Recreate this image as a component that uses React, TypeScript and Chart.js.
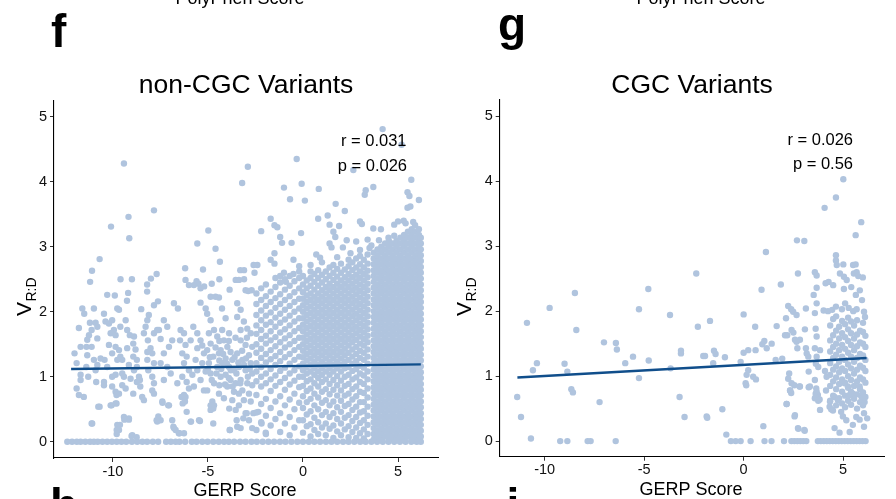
import { useEffect, useRef } from "react";
import { Chart, registerables } from "chart.js";

Chart.register(...registerables);

const FONT = '"Liberation Sans", Arial, Helvetica, sans-serif';
const POINT_COLOR = "#B0C4DE";
const LINE_COLOR = "#104E8B";

const xTickValues = [-10, -5, 0, 5];
const yTickValues = [0, 1, 2, 3, 4, 5];

// ---------------- non-CGC variants (panel f) ----------------
const nonCgcFitX = [-12.2, 6.2];
const nonCgcFitY = [1.12, 1.19];

const nonCgcZeroX = [
  -12.4, -12.15, -11.9, -11.7, -11.45, -11.2, -11.0, -10.8, -10.55, -10.3, -10.05, -9.8, -9.55, -9.3,
  -9.0, -8.72, -8.45, -8.2, -7.9, -7.62, -7.2, -6.95, -6.7, -6.5, -6.2, -5.85, -5.6, -5.3, -5.02,
  -4.72, -4.43, -4.15, -3.9, -3.62, -3.31, -3.02, -2.71, -2.43, -2.12, -1.82, -1.52, -1.21, -0.92,
  -0.61, -0.3, 0.0, 0.31, 0.6, 0.9, 1.21, 1.5, 1.8, 2.11, 2.4, 2.7, 3.01, 3.3, 3.6, 3.9, 4.2, 4.5,
  4.8, 5.1, 5.4, 5.7, 5.98, 6.2,
];

const nonCgcOutliers: [number, number][] = [
  [-9.42, 4.28], [-2.9, 4.23], [-3.2, 3.98], [-7.84, 3.56], [-9.18, 3.46], [-10.1, 3.31], [-9.14, 3.13],
  [-4.98, 3.25], [-5.56, 3.05], [-4.6, 2.97], [-4.37, 2.77], [-10.7, 2.81], [-11.1, 2.63], [-11.2, 2.46],
  [-9.6, 2.5], [-9.0, 2.5], [-9.2, 2.29], [-8.0, 2.51], [-7.7, 2.58], [-8.2, 2.42], [-8.2, 2.31],
  [-6.2, 2.67], [-5.26, 2.65], [-5.6, 2.47], [-5.5, 2.43], [-5.2, 2.39], [-4.8, 2.43], [-4.4, 2.5],
  [-3.3, 2.64], [-3.1, 2.64], [-2.7, 2.33], [-2.55, 2.6], [-3.1, 2.5], [-10.3, 2.26], [-9.9, 2.25],
  [4.19, 4.81], [5.19, 4.57], [2.65, 4.18], [-0.33, 4.35], [5.7, 4.03], [-1.0, 3.91], [-0.07, 3.97],
  [0.83, 3.89], [3.3, 3.87], [3.25, 3.8], [3.7, 3.92], [-0.68, 3.73], [0.1, 3.71], [1.72, 3.66],
  [2.2, 3.55], [5.5, 3.84], [5.6, 3.78], [6.1, 3.72], [5.5, 3.6], [5.65, 3.62], [0.8, 3.43], [1.3, 3.48],
  [1.4, 3.34], [1.9, 3.32], [-1.7, 3.43], [-1.5, 3.33], [-1.35, 3.3], [3.0, 3.39], [3.1, 3.35],
  [4.8, 3.34], [5.0, 3.39], [5.3, 3.4], [5.4, 3.36], [5.8, 3.38], [5.9, 3.33], [-2.2, 3.24], [-0.1, 3.21],
  [1.6, 3.23], [3.7, 3.28], [4.1, 3.27], [-1.2, 3.15], [-1.1, 3.06], [-0.6, 3.06], [1.4, 3.05],
  [1.7, 3.15], [2.3, 3.1], [2.8, 3.08], [3.4, 3.11], [4.0, 3.1], [4.5, 3.14], [4.8, 3.17], [-1.5, 2.9],
  [-0.5, 2.8], [0.7, 2.88], [0.9, 2.83], [1.5, 2.99], [2.1, 2.99], [3.5, 2.98], [3.6, 3.02],
  [-2.6, 2.72], [-2.4, 2.72], [-1.7, 2.8], [-1.5, 2.74], [-1.0, 2.6], [-0.5, 2.58], [-0.9, 2.46],
  [-1.2, 2.55], [-0.2, 2.7], [0.4, 2.72], [1.0, 2.76], [1.8, 2.84], [2.5, 2.9], [3.0, 2.95],
];

const nonCgcBand: [number, number][] = [
  [-12.02, 1.36], [-11.91, 1.21], [-11.79, 1.75], [-11.7, 1.46], [-11.39, 1.46], [-11.12, 1.46],
  [-11.35, 1.33], [-11.4, 1.15], [-11.91, 0.82], [-11.79, 0.72], [-11.53, 0.69], [-11.7, 1.03],
  [-11.7, 0.95], [-11.3, 1.0], [-11.0, 1.26], [-10.82, 1.18], [-11.61, 2.05], [-11.51, 1.97],
  [-11.0, 2.05], [-11.21, 1.83], [-11.12, 1.72], [-11.26, 1.64], [-11.35, 1.57], [-10.91, 1.83],
  [-10.82, 1.77], [-10.82, 1.59], [-11.12, 0.28], [-10.7, 0.54], [-10.91, 1.1], [-10.88, 0.92],
  [-10.47, 0.92], [-10.65, 1.28], [-10.44, 1.26],
  [-10.47, 1.97], [-10.39, 1.85], [-10.21, 1.82], [-10.04, 1.87], [-9.95, 1.72], [-10.12, 1.67],
  [-9.86, 1.64], [-9.86, 1.46], [-10.21, 1.49], [-10.04, 1.36], [-9.68, 1.41], [-9.61, 1.31],
  [-9.77, 1.26], [-9.51, 1.26], [-10.3, 1.15], [-10.04, 1.0], [-9.86, 1.03], [-9.51, 1.05],
  [-9.42, 1.0], [-10.47, 0.87], [-10.04, 0.85], [-9.86, 0.77], [-9.68, 0.74], [-9.51, 0.87],
  [-9.33, 0.82], [-9.81, 0.72], [-10.12, 0.56], [-9.86, 0.59], [-9.77, 0.26], [-9.68, 0.18],
  [-9.42, 0.38], [-9.16, 0.36], [-8.98, 0.1], [-9.77, 2.05], [-9.68, 2.03], [-9.26, 2.17],
  [-9.61, 1.77], [-9.33, 1.87], [-9.25, 1.72], [-9.11, 1.64], [-8.89, 1.62], [-8.93, 1.51],
  [-9.25, 1.44], [-8.81, 1.42], [-8.93, 1.31], [-8.74, 1.26], [-9.16, 1.18], [-8.74, 1.15],
  [-8.89, 1.1], [-8.63, 1.0], [-9.07, 0.97], [-8.74, 0.92], [-8.56, 0.85], [-8.93, 0.74],
  [-8.46, 0.69], [-8.37, 0.64], [-8.58, 0.95], [-8.51, 2.04], [-8.28, 1.77], [-8.19, 1.87],
  [-8.11, 1.95], [-8.37, 1.67], [-8.16, 1.56], [-8.02, 1.44], [-8.19, 1.38], [-7.93, 1.36],
  [-8.19, 1.26], [-7.84, 1.21], [-8.14, 1.1], [-7.93, 1.0], [-7.84, 0.9], [-7.93, 0.79],
  [-7.84, 0.74], [-7.84, 2.1], [-7.63, 2.16], [-7.84, 1.67], [-7.67, 1.72], [-7.49, 1.58],
  [-7.58, 1.72],
  [-7.32, 1.87], [-7.14, 1.77], [-6.88, 1.56], [-7.05, 1.46], [-7.32, 1.36], [-7.49, 1.21],
  [-7.14, 1.15], [-6.96, 1.05], [-7.32, 0.95], [-7.4, 0.62], [-7.05, 0.56], [-7.49, 0.33],
  [-7.67, 0.31], [-6.88, 0.33], [-6.79, 0.21], [-6.53, 0.13], [-6.26, 0.13], [-6.79, 2.13],
  [-6.58, 2.05], [-6.44, 1.72], [-6.26, 1.67], [-6.47, 1.56], [-6.18, 1.49], [-6.35, 1.36],
  [-6.12, 1.31], [-6.26, 1.21], [-6.0, 1.1], [-6.35, 1.0], [-6.12, 0.92], [-6.61, 0.9],
  [-6.0, 0.82], [-6.26, 0.72], [-6.18, 0.69], [-6.12, 0.46], [-5.91, 0.31], [-6.18, 2.49],
  [-6.0, 2.41], [-5.74, 2.41], [-5.39, 2.36], [-5.39, 2.14], [-5.12, 2.05], [-5.04, 1.97],
  [-5.77, 1.77], [-5.56, 1.67], [-5.91, 1.56], [-5.39, 1.56], [-5.56, 1.44], [-5.21, 1.36],
  [-5.65, 1.26], [-5.3, 1.21], [-5.56, 1.1], [-5.12, 1.08], [-5.82, 1.03], [-5.39, 0.95],
  [-5.74, 0.85], [-5.21, 0.79], [-5.47, 0.33], [-4.86, 2.23], [-4.6, 2.23], [-4.42, 2.22],
  [-4.86, 1.87], [-4.68, 1.72], [-4.95, 1.67], [-4.51, 1.62], [-4.86, 1.51], [-5.04, 1.41],
  [-4.72, 1.31], [-4.42, 1.36], [-4.95, 1.21], [-4.51, 1.15], [-4.86, 1.05], [-4.33, 1.0],
  [-4.68, 0.9], [-5.04, 0.79], [-4.42, 0.74], [-4.77, 0.62], [-4.68, 0.56], [-4.86, 0.49],
  [-4.72, 0.28], [-4.26, 2.05], [-4.07, 1.9], [-4.25, 1.72], [-3.89, 1.67], [-4.16, 1.56],
  [-3.98, 1.46], [-4.33, 1.41], [-3.81, 1.38], [-4.07, 1.28], [-3.72, 1.26], [-4.25, 1.21],
  [-3.89, 1.15], [-3.63, 1.1], [-4.07, 1.03], [-3.81, 0.95], [-3.54, 0.9], [-3.98, 0.85],
  [-3.63, 0.77], [-4.16, 0.67], [-3.72, 0.64], [-3.37, 0.74], [-3.54, 0.49], [-3.49, 0.33],
  [-3.86, 0.18], [-3.54, 2.49], [-3.86, 2.34], [-3.37, 2.49], [-3.02, 2.33], [-2.88, 2.32],
  [-3.46, 2.13], [-3.28, 2.03], [-3.46, 1.92], [-3.11, 1.85], [-3.28, 1.72], [-2.93, 1.74],
  [-2.75, 1.67], [-3.28, 1.56], [-3.02, 1.49], [-2.67, 1.46], [-3.46, 1.36], [-2.84, 1.33],
  [-3.19, 1.26], [-2.75, 1.21], [-3.37, 1.15], [-3.02, 1.1], [-2.67, 1.05], [-3.28, 0.95],
  [-2.93, 0.9], [-2.67, 0.87], [-3.19, 0.79], [-2.84, 0.74], [-3.11, 0.64], [-2.75, 0.62],
  [-3.37, 0.56], [-3.02, 0.44], [-2.84, 0.33], [-3.28, 0.21], [-2.67, 0.21],
  [-4.9, 1.3], [-4.6, 1.45], [-4.4, 1.25], [-4.2, 1.35], [-4.0, 1.2], [-3.8, 1.1], [-3.6, 1.3],
  [-3.4, 1.22], [-3.2, 1.4], [-3.0, 1.28], [-2.8, 1.12], [-3.5, 1.05], [-3.9, 0.98], [-4.3, 1.12],
  [-4.55, 1.05], [-4.1, 0.88], [-3.7, 0.85], [-3.3, 0.9], [-2.9, 1.0], [-5.3, 1.48], [-5.0, 1.12],
  [-4.8, 0.95], [-3.1, 1.18], [-3.55, 1.6], [-3.9, 1.55], [-4.4, 1.55], [-2.95, 1.6],
  [-10.77, 0.54], [-11.09, 0.28], [-10.07, 0.56], [-9.81, 0.59], [-9.63, 0.26], [-9.4, 0.34],
  [-9.8, 0.18], [-9.8, 0.12], [-9.02, 0.09], [-8.75, 0.07], [-9.16, 0.34], [-7.7, 0.33],
  [-7.39, 0.6], [-7.09, 0.56], [-7.61, 0.39], [-6.82, 0.23], [-6.7, 0.18], [-6.5, 0.13],
  [-6.39, 0.69], [-6.33, 0.59], [-6.21, 0.62], [-5.89, 0.31], [-5.42, 0.32], [-4.86, 0.56],
  [-4.72, 0.51], [-4.4, 0.87], [-3.88, 0.51], [-3.84, 0.18], [-3.46, 0.23], [-2.96, 0.44],
  [-2.61, 0.44], [-2.35, 0.46], [-3.14, 0.36], [-2.18, 0.28], [-1.96, 0.14],
];

// dense mass of points (GERP > -2.5), listed by GERP column
const nonCgcDense: [number, number[]][] = [
  [-2.45, [0.18, 0.45, 0.72, 0.93, 1.08, 1.21, 1.37, 1.5, 1.66, 1.79, 1.95, 2.12, 2.28]],
  [-2.2, [0.3, 0.58, 0.85, 1.0, 1.15, 1.29, 1.43, 1.58, 1.72, 1.87, 2.02, 2.18, 2.36]],
  [-1.95, [0.12, 0.4, 0.66, 0.9, 1.05, 1.22, 1.35, 1.51, 1.63, 1.8, 1.94, 2.09, 2.24, 2.42]],
  [-1.7, [0.25, 0.52, 0.78, 0.96, 1.12, 1.27, 1.41, 1.56, 1.7, 1.84, 1.99, 2.15, 2.31]],
  [-1.45, [0.35, 0.62, 0.86, 1.02, 1.18, 1.32, 1.47, 1.61, 1.77, 1.91, 2.06, 2.21, 2.38, 2.52]],
  [-1.2, [0.15, 0.44, 0.7, 0.92, 1.09, 1.24, 1.38, 1.53, 1.68, 1.83, 1.97, 2.12, 2.27, 2.45]],
  [-0.95, [0.28, 0.56, 0.8, 0.98, 1.14, 1.3, 1.45, 1.59, 1.73, 1.88, 2.03, 2.18, 2.34, 2.5]],
  [-0.7, [0.1, 0.38, 0.65, 0.88, 1.05, 1.2, 1.35, 1.5, 1.64, 1.79, 1.94, 2.09, 2.24, 2.4, 2.55]],
  [-0.45, [0.22, 0.5, 0.74, 0.94, 1.1, 1.26, 1.41, 1.55, 1.7, 1.85, 2.0, 2.15, 2.3, 2.47]],
  [-0.2, [0.33, 0.6, 0.84, 1.0, 1.16, 1.31, 1.46, 1.6, 1.75, 1.9, 2.05, 2.2, 2.36, 2.52, 2.62]],
  [0.0, [0.14, 0.33, 0.52, 0.7, 0.86, 1.0, 1.1, 1.2, 1.3, 1.4, 1.5, 1.6, 1.7, 1.8, 1.9, 2.0, 2.1, 2.2, 2.3, 2.42, 2.55]],
  [0.2, [0.24, 0.42, 0.61, 0.78, 0.93, 1.05, 1.15, 1.25, 1.35, 1.45, 1.55, 1.65, 1.75, 1.85, 1.95, 2.05, 2.15, 2.25, 2.36, 2.48]],
  [0.4, [0.08, 0.27, 0.47, 0.66, 0.82, 0.96, 1.08, 1.18, 1.28, 1.38, 1.48, 1.58, 1.68, 1.78, 1.88, 1.98, 2.08, 2.18, 2.28, 2.4, 2.52, 2.62]],
  [0.6, [0.18, 0.37, 0.56, 0.74, 0.9, 1.03, 1.13, 1.23, 1.33, 1.43, 1.53, 1.63, 1.73, 1.83, 1.93, 2.03, 2.13, 2.23, 2.34, 2.46, 2.58]],
  [0.8, [0.12, 0.3, 0.5, 0.68, 0.85, 0.98, 1.08, 1.18, 1.28, 1.38, 1.48, 1.58, 1.68, 1.78, 1.88, 1.98, 2.08, 2.18, 2.28, 2.4, 2.52, 2.64]],
  [1.0, [0.22, 0.41, 0.6, 0.77, 0.92, 1.03, 1.13, 1.23, 1.33, 1.43, 1.53, 1.63, 1.73, 1.83, 1.93, 2.03, 2.13, 2.23, 2.33, 2.45, 2.57]],
  [1.2, [0.1, 0.28, 0.46, 0.64, 0.81, 0.96, 1.08, 1.18, 1.28, 1.38, 1.48, 1.58, 1.68, 1.78, 1.88, 1.98, 2.08, 2.18, 2.28, 2.38, 2.5, 2.62]],
  [1.4, [0.2, 0.38, 0.56, 0.73, 0.89, 1.03, 1.13, 1.23, 1.33, 1.43, 1.53, 1.63, 1.73, 1.83, 1.93, 2.03, 2.13, 2.23, 2.33, 2.43, 2.55, 2.68]],
  [1.6, [0.06, 0.25, 0.44, 0.62, 0.8, 0.95, 1.08, 1.18, 1.28, 1.38, 1.48, 1.58, 1.68, 1.78, 1.88, 1.98, 2.08, 2.18, 2.28, 2.38, 2.49, 2.6, 2.72]],
  [1.8, [0.16, 0.35, 0.53, 0.71, 0.87, 1.01, 1.13, 1.23, 1.33, 1.43, 1.53, 1.63, 1.73, 1.83, 1.93, 2.03, 2.13, 2.23, 2.33, 2.43, 2.54, 2.66]],
  [2.0, [0.1, 0.28, 0.46, 0.63, 0.79, 0.94, 1.08, 1.18, 1.28, 1.38, 1.48, 1.58, 1.68, 1.78, 1.88, 1.98, 2.08, 2.18, 2.28, 2.38, 2.48, 2.6, 2.74]],
  [2.2, [0.19, 0.37, 0.55, 0.71, 0.86, 1.0, 1.13, 1.23, 1.33, 1.43, 1.53, 1.63, 1.73, 1.83, 1.93, 2.03, 2.13, 2.23, 2.33, 2.43, 2.53, 2.65]],
  [2.4, [0.07, 0.24, 0.41, 0.58, 0.74, 0.89, 1.03, 1.15, 1.26, 1.37, 1.48, 1.58, 1.68, 1.78, 1.88, 1.98, 2.08, 2.18, 2.28, 2.38, 2.48, 2.58, 2.7, 2.8]],
  [2.6, [0.15, 0.32, 0.49, 0.65, 0.81, 0.96, 1.09, 1.2, 1.31, 1.42, 1.53, 1.63, 1.73, 1.83, 1.93, 2.03, 2.13, 2.23, 2.33, 2.43, 2.53, 2.64, 2.76]],
  [2.8, [0.06, 0.22, 0.38, 0.54, 0.7, 0.85, 0.99, 1.12, 1.24, 1.35, 1.46, 1.57, 1.67, 1.77, 1.87, 1.97, 2.07, 2.17, 2.27, 2.37, 2.47, 2.57, 2.68, 2.82]],
  [3.0, [0.13, 0.29, 0.45, 0.61, 0.77, 0.92, 1.05, 1.17, 1.29, 1.4, 1.51, 1.62, 1.72, 1.82, 1.92, 2.02, 2.12, 2.22, 2.32, 2.42, 2.52, 2.62, 2.73, 2.86]],
  [3.2, [0.05, 0.19, 0.33, 0.47, 0.61, 0.75, 0.89, 1.02, 1.14, 1.26, 1.37, 1.48, 1.58, 1.68, 1.78, 1.88, 1.98, 2.08, 2.18, 2.28, 2.38, 2.48, 2.58, 2.68, 2.8]],
  [3.4, [0.12, 0.26, 0.4, 0.54, 0.68, 0.82, 0.96, 1.08, 1.2, 1.31, 1.42, 1.53, 1.63, 1.73, 1.83, 1.93, 2.03, 2.13, 2.23, 2.33, 2.43, 2.53, 2.63, 2.74, 2.88]],
  [3.72, [0.03, 0.12, 0.21, 0.3, 0.39, 0.48, 0.57, 0.66, 0.75, 0.84, 0.93, 1.02, 1.11, 1.2, 1.29, 1.38, 1.47, 1.56, 1.65, 1.74, 1.83, 1.92, 2.01, 2.1, 2.19, 2.28, 2.37, 2.46, 2.55, 2.64, 2.73, 2.82, 2.91]],
  [3.92, [0.08, 0.17, 0.26, 0.35, 0.44, 0.53, 0.62, 0.71, 0.8, 0.89, 0.98, 1.07, 1.16, 1.25, 1.34, 1.43, 1.52, 1.61, 1.7, 1.79, 1.88, 1.97, 2.06, 2.15, 2.24, 2.33, 2.42, 2.51, 2.6, 2.69, 2.78, 2.87, 2.96]],
  [4.12, [0.03, 0.12, 0.21, 0.3, 0.39, 0.48, 0.57, 0.66, 0.75, 0.84, 0.93, 1.02, 1.11, 1.2, 1.29, 1.38, 1.47, 1.56, 1.65, 1.74, 1.83, 1.92, 2.01, 2.1, 2.19, 2.28, 2.37, 2.46, 2.55, 2.64, 2.73, 2.82, 2.91, 3.0]],
  [4.32, [0.08, 0.17, 0.26, 0.35, 0.44, 0.53, 0.62, 0.71, 0.8, 0.89, 0.98, 1.07, 1.16, 1.25, 1.34, 1.43, 1.52, 1.61, 1.7, 1.79, 1.88, 1.97, 2.06, 2.15, 2.24, 2.33, 2.42, 2.51, 2.6, 2.69, 2.78, 2.87, 2.96, 3.05]],
  [4.52, [0.03, 0.12, 0.21, 0.3, 0.39, 0.48, 0.57, 0.66, 0.75, 0.84, 0.93, 1.02, 1.11, 1.2, 1.29, 1.38, 1.47, 1.56, 1.65, 1.74, 1.83, 1.92, 2.01, 2.1, 2.19, 2.28, 2.37, 2.46, 2.55, 2.64, 2.73, 2.82, 2.91, 3.0, 3.09]],
  [4.72, [0.08, 0.17, 0.26, 0.35, 0.44, 0.53, 0.62, 0.71, 0.8, 0.89, 0.98, 1.07, 1.16, 1.25, 1.34, 1.43, 1.52, 1.61, 1.7, 1.79, 1.88, 1.97, 2.06, 2.15, 2.24, 2.33, 2.42, 2.51, 2.6, 2.69, 2.78, 2.87, 2.96, 3.05]],
  [4.92, [0.03, 0.12, 0.21, 0.3, 0.39, 0.48, 0.57, 0.66, 0.75, 0.84, 0.93, 1.02, 1.11, 1.2, 1.29, 1.38, 1.47, 1.56, 1.65, 1.74, 1.83, 1.92, 2.01, 2.1, 2.19, 2.28, 2.37, 2.46, 2.55, 2.64, 2.73, 2.82, 2.91, 3.0, 3.09]],
  [5.12, [0.08, 0.17, 0.26, 0.35, 0.44, 0.53, 0.62, 0.71, 0.8, 0.89, 0.98, 1.07, 1.16, 1.25, 1.34, 1.43, 1.52, 1.61, 1.7, 1.79, 1.88, 1.97, 2.06, 2.15, 2.24, 2.33, 2.42, 2.51, 2.6, 2.69, 2.78, 2.87, 2.96, 3.05, 3.14]],
  [5.32, [0.03, 0.12, 0.21, 0.3, 0.39, 0.48, 0.57, 0.66, 0.75, 0.84, 0.93, 1.02, 1.11, 1.2, 1.29, 1.38, 1.47, 1.56, 1.65, 1.74, 1.83, 1.92, 2.01, 2.1, 2.19, 2.28, 2.37, 2.46, 2.55, 2.64, 2.73, 2.82, 2.91, 3.0, 3.09, 3.18]],
  [5.52, [0.08, 0.17, 0.26, 0.35, 0.44, 0.53, 0.62, 0.71, 0.8, 0.89, 0.98, 1.07, 1.16, 1.25, 1.34, 1.43, 1.52, 1.61, 1.7, 1.79, 1.88, 1.97, 2.06, 2.15, 2.24, 2.33, 2.42, 2.51, 2.6, 2.69, 2.78, 2.87, 2.96, 3.05, 3.14, 3.23]],
  [5.72, [0.03, 0.12, 0.21, 0.3, 0.39, 0.48, 0.57, 0.66, 0.75, 0.84, 0.93, 1.02, 1.11, 1.2, 1.29, 1.38, 1.47, 1.56, 1.65, 1.74, 1.83, 1.92, 2.01, 2.1, 2.19, 2.28, 2.37, 2.46, 2.55, 2.64, 2.73, 2.82, 2.91, 3.0, 3.09, 3.18, 3.27]],
  [5.92, [0.08, 0.17, 0.26, 0.35, 0.44, 0.53, 0.62, 0.71, 0.8, 0.89, 0.98, 1.07, 1.16, 1.25, 1.34, 1.43, 1.52, 1.61, 1.7, 1.79, 1.88, 1.97, 2.06, 2.15, 2.24, 2.33, 2.42, 2.51, 2.6, 2.69, 2.78, 2.87, 2.96, 3.05, 3.14, 3.23]],
  [6.1, [0.03, 0.12, 0.21, 0.3, 0.39, 0.48, 0.57, 0.66, 0.75, 0.84, 0.93, 1.02, 1.11, 1.2, 1.29, 1.38, 1.47, 1.56, 1.65, 1.74, 1.83, 1.92, 2.01, 2.1, 2.19, 2.28, 2.37, 2.46, 2.55, 2.64, 2.73, 2.82, 2.91, 3.0, 3.09, 3.18, 3.27]],
  [6.2, [0.08, 0.17, 0.26, 0.35, 0.44, 0.53, 0.62, 0.71, 0.8, 0.89, 0.98, 1.07, 1.16, 1.25, 1.34, 1.43, 1.52, 1.61, 1.7, 1.79, 1.88, 1.97, 2.06, 2.15, 2.24, 2.33, 2.42, 2.51, 2.6, 2.69, 2.78, 2.87, 2.96, 3.05, 3.14]],
];

// ---------------- CGC variants (panel g) ----------------
const cgcFitX = [-11.37, 6.18];
const cgcFitY = [0.98, 1.28];

const cgcZeroX = [
  -9.22, -8.86, -7.84, -7.69, -6.43, -0.64, -0.4, -0.15, 0.35, 1.05, 1.4, 2.03, 2.4, 2.55, 2.7, 2.85,
  3.0, 3.15, 3.73, 3.88, 4.03, 4.18, 4.33, 4.48, 4.63, 4.78, 4.93, 5.08, 5.23, 5.38, 5.53, 5.68, 5.83,
  5.98, 6.13,
];

const cgcPoints: [number, number][] = [
  [-11.38, 0.68], [-11.19, 0.37], [-10.69, 0.04], [-10.89, 1.82], [-10.59, 1.09], [-10.39, 1.2],
  [-9.75, 2.05], [-9.0, 1.19], [-8.86, 1.07], [-8.66, 0.8], [-8.58, 0.75], [-8.48, 2.28],
  [-8.41, 1.71], [-7.24, 0.6], [-7.02, 1.52], [-6.42, 1.51], [-6.37, 1.41], [-5.95, 1.2],
  [-5.56, 1.3], [-5.26, 2.03], [-5.26, 0.97], [-4.79, 2.34], [-4.77, 1.24], [-3.7, 1.94],
  [-3.67, 1.12], [-3.22, 0.68], [-3.15, 1.39], [-3.15, 1.35], [-2.97, 0.37], [-2.38, 2.58],
  [-2.3, 1.76],
  [5.01, 4.03], [4.64, 3.75], [4.07, 3.59], [5.91, 3.37], [5.63, 3.17], [2.68, 3.09], [3.05, 3.08],
  [1.12, 2.91], [4.64, 2.86], [4.64, 2.78], [4.68, 2.71], [5.01, 2.72], [5.5, 2.71], [5.63, 2.72],
  [2.73, 2.58], [3.58, 2.6], [3.67, 2.55], [4.27, 2.45], [4.12, 2.43], [1.87, 2.41], [0.9, 2.33],
  [4.84, 2.58], [5.04, 2.53], [5.18, 2.48], [5.54, 2.58], [5.68, 2.6], [5.76, 2.54], [5.99, 2.52],
  [4.5, 2.4], [5.04, 2.34], [5.41, 2.37], [5.84, 2.32], [5.64, 2.25], [3.67, 2.36], [3.52, 2.25],
  [3.67, 2.12], [2.24, 2.08], [2.39, 2.03], [2.49, 1.99], [2.66, 1.94], [3.13, 2.04], [0.0, 1.95],
  [-1.69, 1.85], [0.58, 1.76], [1.66, 1.77], [2.13, 1.89], [3.58, 1.97], [4.02, 2.01], [4.24, 2.0],
  [4.45, 2.02], [4.64, 2.07], [4.94, 2.03], [5.1, 2.12], [5.28, 2.05], [5.51, 2.0], [5.68, 2.03],
  [5.95, 2.17], [6.05, 1.99], [6.1, 1.91],
  [-2.03, 1.31], [-1.94, 1.31], [-1.49, 1.39], [-1.41, 1.34], [-1.53, 1.2], [-0.94, 1.29],
  [-0.15, 1.22], [0.0, 1.36], [0.23, 1.4], [0.6, 1.4], [0.94, 1.49], [1.04, 1.54], [1.16, 1.43],
  [1.41, 1.5], [1.61, 1.25], [1.94, 1.27], [0.23, 1.09], [0.15, 1.02], [0.1, 0.89], [0.48, 0.99],
  [0.62, 0.95], [-1.86, 0.38], [-1.83, 0.36], [-1.07, 0.49], [-0.87, 0.1], [0.99, 0.23],
  [0.13, 0.86], [2.16, 0.57], [2.56, 0.38], [2.73, 0.2], [3.07, 0.16], [2.34, 0.78], [2.39, 0.74],
  [2.81, 0.84], [3.27, 0.83], [3.65, 0.81], [3.73, 0.71], [3.82, 0.64], [3.62, 0.73], [4.32, 0.53],
  [4.4, 0.49], [4.49, 0.47], [4.57, 0.2], [4.82, 0.13], [4.9, 0.45], [4.99, 0.38], [5.16, 0.32],
  [5.33, 0.14], [5.49, 0.25], [5.66, 0.37], [5.83, 0.33], [6.05, 0.43], [6.21, 0.35], [6.05, 0.22],
  [5.08, 0.89], [5.24, 0.84], [5.49, 0.73], [5.83, 0.84], [6.0, 0.66], [6.08, 0.6], [5.91, 0.69],
  [5.33, 0.71], [4.57, 0.68], [4.74, 0.63],
  [2.08, 1.63], [2.19, 1.63], [2.41, 1.71], [2.5, 1.67], [2.66, 1.53], [2.58, 1.56], [2.83, 1.56],
  [2.7, 1.43], [3.08, 1.72], [3.13, 1.43], [3.17, 1.35], [3.25, 1.3], [3.62, 1.73], [3.67, 1.61],
  [3.58, 1.43], [3.84, 1.4], [3.67, 1.3], [2.29, 1.04], [2.24, 0.96], [2.41, 0.89], [2.55, 0.86],
  [2.33, 0.78], [2.83, 0.84], [3.27, 1.07], [3.33, 0.84], [3.58, 0.94], [3.67, 0.76], [3.58, 0.66],
  [3.75, 0.62], [3.84, 0.48], [4.09, 1.08], [4.17, 0.99], [4.14, 0.78], [4.34, 0.61], [2.16, 0.57],
  [2.58, 0.4], [2.75, 0.19], [3.05, 0.17], [3.63, 1.19], [3.75, 1.14],
];

const cgcDense: [number, number[]][] = [
  [4.35, [0.62, 0.85, 1.02, 1.2, 1.38, 1.55, 1.78]],
  [4.5, [0.7, 0.92, 1.1, 1.28, 1.45, 1.63, 1.88]],
  [4.65, [0.55, 0.8, 0.98, 1.15, 1.33, 1.5, 1.7, 1.92]],
  [4.8, [0.66, 0.88, 1.06, 1.22, 1.4, 1.58, 1.76]],
  [4.95, [0.58, 0.76, 0.95, 1.12, 1.3, 1.48, 1.66, 1.85]],
  [5.1, [0.52, 0.7, 0.9, 1.08, 1.25, 1.42, 1.6, 1.8]],
  [5.25, [0.62, 0.82, 1.0, 1.18, 1.36, 1.54, 1.72, 1.9]],
  [5.4, [0.56, 0.76, 0.94, 1.12, 1.3, 1.48, 1.66, 1.84]],
  [5.55, [0.65, 0.85, 1.04, 1.22, 1.4, 1.58, 1.78]],
  [5.7, [0.5, 0.72, 0.92, 1.1, 1.28, 1.46, 1.64, 1.86]],
  [5.85, [0.6, 0.8, 0.98, 1.16, 1.34, 1.52, 1.7]],
  [6.0, [0.55, 0.75, 0.95, 1.13, 1.32, 1.5, 1.68, 1.82]],
  [6.12, [0.68, 0.9, 1.08, 1.25, 1.45, 1.62]],
];

type Pt = { x: number; y: number };

function buildPoints(zeroX: number[], pairs: [number, number][], cols: [number, number[]][]): Pt[] {
  const pts: Pt[] = [];
  zeroX.forEach((x) => pts.push({ x, y: 0 }));
  pairs.forEach(([x, y]) => pts.push({ x, y }));
  cols.forEach(([x, ys]) => ys.forEach((y) => pts.push({ x, y })));
  return pts;
}

type TextItem = { text: string; x: number; y: number };

type PanelSpec = {
  left: number;
  points: Pt[];
  fitX: number[];
  fitY: number[];
  xMin: number;
  xMax: number;
  yMin: number;
  yMax: number;
  padTop: number;
  padRight: number;
  yAxisWidth: number;
  xAxisHeight: number;
  topText: TextItem;
  letter: TextItem;
  bottomLetter: TextItem;
  title: TextItem;
  xTitle: TextItem;
  yTitle: { x: number; y: number };
  annot: TextItem[];
};

function makeTextPlugin(spec: PanelSpec) {
  return {
    id: "panelTexts",
    afterDraw(chart: any) {
      const ctx: CanvasRenderingContext2D = chart.ctx;
      ctx.save();
      ctx.fillStyle = "#000";
      ctx.textBaseline = "alphabetic";

      ctx.textAlign = "center";
      ctx.font = `18px ${FONT}`;
      ctx.fillText(spec.topText.text, spec.topText.x, spec.topText.y);

      ctx.textAlign = "left";
      ctx.font = `bold 46px ${FONT}`;
      ctx.fillText(spec.letter.text, spec.letter.x, spec.letter.y);
      ctx.fillText(spec.bottomLetter.text, spec.bottomLetter.x, spec.bottomLetter.y);

      ctx.textAlign = "center";
      ctx.font = `26.5px ${FONT}`;
      ctx.fillText(spec.title.text, spec.title.x, spec.title.y);

      ctx.font = `18px ${FONT}`;
      ctx.fillText(spec.xTitle.text, spec.xTitle.x, spec.xTitle.y);

      ctx.textAlign = "right";
      ctx.font = `16.5px ${FONT}`;
      spec.annot.forEach((a) => ctx.fillText(a.text, a.x, a.y));

      // rotated y-axis title with subscript
      ctx.translate(spec.yTitle.x, spec.yTitle.y);
      ctx.rotate(-Math.PI / 2);
      ctx.textAlign = "left";
      ctx.font = `21px ${FONT}`;
      ctx.fillText("V", 0, 0);
      const w = ctx.measureText("V").width;
      ctx.font = `14px ${FONT}`;
      ctx.fillText("R:D", w + 0.5, 5);
      ctx.restore();
    },
  };
}

function Panel({ spec }: { spec: PanelSpec }) {
  const ref = useRef<HTMLCanvasElement | null>(null);
  useEffect(() => {
    if (!ref.current) return;
    const tickFont = { family: FONT, size: 14.5 };
    const chart = new Chart(ref.current, {
      type: "scatter",
      data: {
        datasets: [
          {
            type: "line",
            data: spec.fitX.map((x, i) => ({ x, y: spec.fitY[i] })),
            borderColor: LINE_COLOR,
            borderWidth: 2.4,
            pointRadius: 0,
            showLine: true,
            fill: false,
            order: 0,
          } as any,
          {
            type: "scatter",
            data: spec.points,
            backgroundColor: POINT_COLOR,
            borderWidth: 0,
            pointRadius: 3.2,
            pointHoverRadius: 3.2,
            order: 1,
          } as any,
        ],
      },
      options: {
        responsive: false,
        animation: false,
        events: [],
        layout: { padding: { left: 0, right: spec.padRight, top: spec.padTop, bottom: 0 } },
        plugins: {
          legend: { display: false },
          tooltip: { enabled: false },
          title: { display: false },
        },
        scales: {
          x: {
            type: "linear",
            min: spec.xMin,
            max: spec.xMax,
            afterBuildTicks: (s: any) => {
              s.ticks = xTickValues.map((v) => ({ value: v }));
            },
            afterFit: (s: any) => {
              s.height = spec.xAxisHeight;
            },
            grid: { display: true, drawOnChartArea: false, drawTicks: true, tickLength: 4, color: "#333", lineWidth: 1 },
            border: { display: true, color: "#000", width: 1.1 },
            ticks: {
              font: tickFont,
              color: "#111",
              padding: 1,
              maxRotation: 0,
              autoSkip: false,
              callback: (v: any) => String(v),
            },
          },
          y: {
            type: "linear",
            min: spec.yMin,
            max: spec.yMax,
            afterBuildTicks: (s: any) => {
              s.ticks = yTickValues.map((v) => ({ value: v }));
            },
            afterFit: (s: any) => {
              s.width = spec.yAxisWidth;
            },
            grid: { display: true, drawOnChartArea: false, drawTicks: true, tickLength: 4, color: "#333", lineWidth: 1 },
            border: { display: true, color: "#000", width: 1.1 },
            ticks: {
              font: tickFont,
              color: "#111",
              padding: 3,
              autoSkip: false,
              callback: (v: any) => String(v),
            },
          },
        },
      } as any,
      plugins: [makeTextPlugin(spec)],
    });
    return () => chart.destroy();
  }, [spec]);
  return (
    <canvas
      ref={ref}
      width={448}
      height={499}
      style={{ position: "absolute", left: spec.left, top: 0, width: 448, height: 499 }}
    />
  );
}

const leftSpec: PanelSpec = {
  left: 0,
  points: buildPoints(nonCgcZeroX, [...nonCgcOutliers, ...nonCgcBand], nonCgcDense),
  fitX: nonCgcFitX,
  fitY: nonCgcFitY,
  xMin: -13.1,
  xMax: 7.12,
  yMin: -0.25,
  yMax: 5.25,
  padTop: 100.5,
  padRight: 9.7,
  yAxisWidth: 54,
  xAxisHeight: 41,
  topText: { text: "PolyPhen Score", x: 240, y: 4 },
  letter: { text: "f", x: 51, y: 47 },
  bottomLetter: { text: "h", x: 50, y: 521 },
  title: { text: "non-CGC Variants", x: 246, y: 93 },
  xTitle: { text: "GERP Score", x: 245, y: 495.5 },
  yTitle: { x: 31, y: 316 },
  annot: [
    { text: "r = 0.031", x: 406.5, y: 146 },
    { text: "p = 0.026", x: 407, y: 171 },
  ],
};

const rightSpec: PanelSpec = {
  left: 448,
  points: buildPoints(cgcZeroX, cgcPoints, cgcDense),
  fitX: cgcFitX,
  fitY: cgcFitY,
  xMin: -12.26,
  xMax: 7.09,
  yMin: -0.24,
  yMax: 5.25,
  padTop: 100,
  padRight: 11.3,
  yAxisWidth: 51.7,
  xAxisHeight: 42.3,
  topText: { text: "PolyPhen Score", x: 253, y: 4 },
  letter: { text: "g", x: 50, y: 40 },
  bottomLetter: { text: "i", x: 58.5, y: 521 },
  title: { text: "CGC Variants", x: 244, y: 92.5 },
  xTitle: { text: "GERP Score", x: 243, y: 495 },
  yTitle: { x: 23, y: 316 },
  annot: [
    { text: "r = 0.026", x: 405, y: 144.5 },
    { text: "p = 0.56", x: 405, y: 168.5 },
  ],
};

export default function App() {
  return (
    <div
      style={{
        position: "fixed",
        left: 0,
        top: 0,
        width: 896,
        height: 499,
        background: "#fff",
        overflow: "hidden",
      }}
    >
      <Panel spec={leftSpec} />
      <Panel spec={rightSpec} />
    </div>
  );
}
